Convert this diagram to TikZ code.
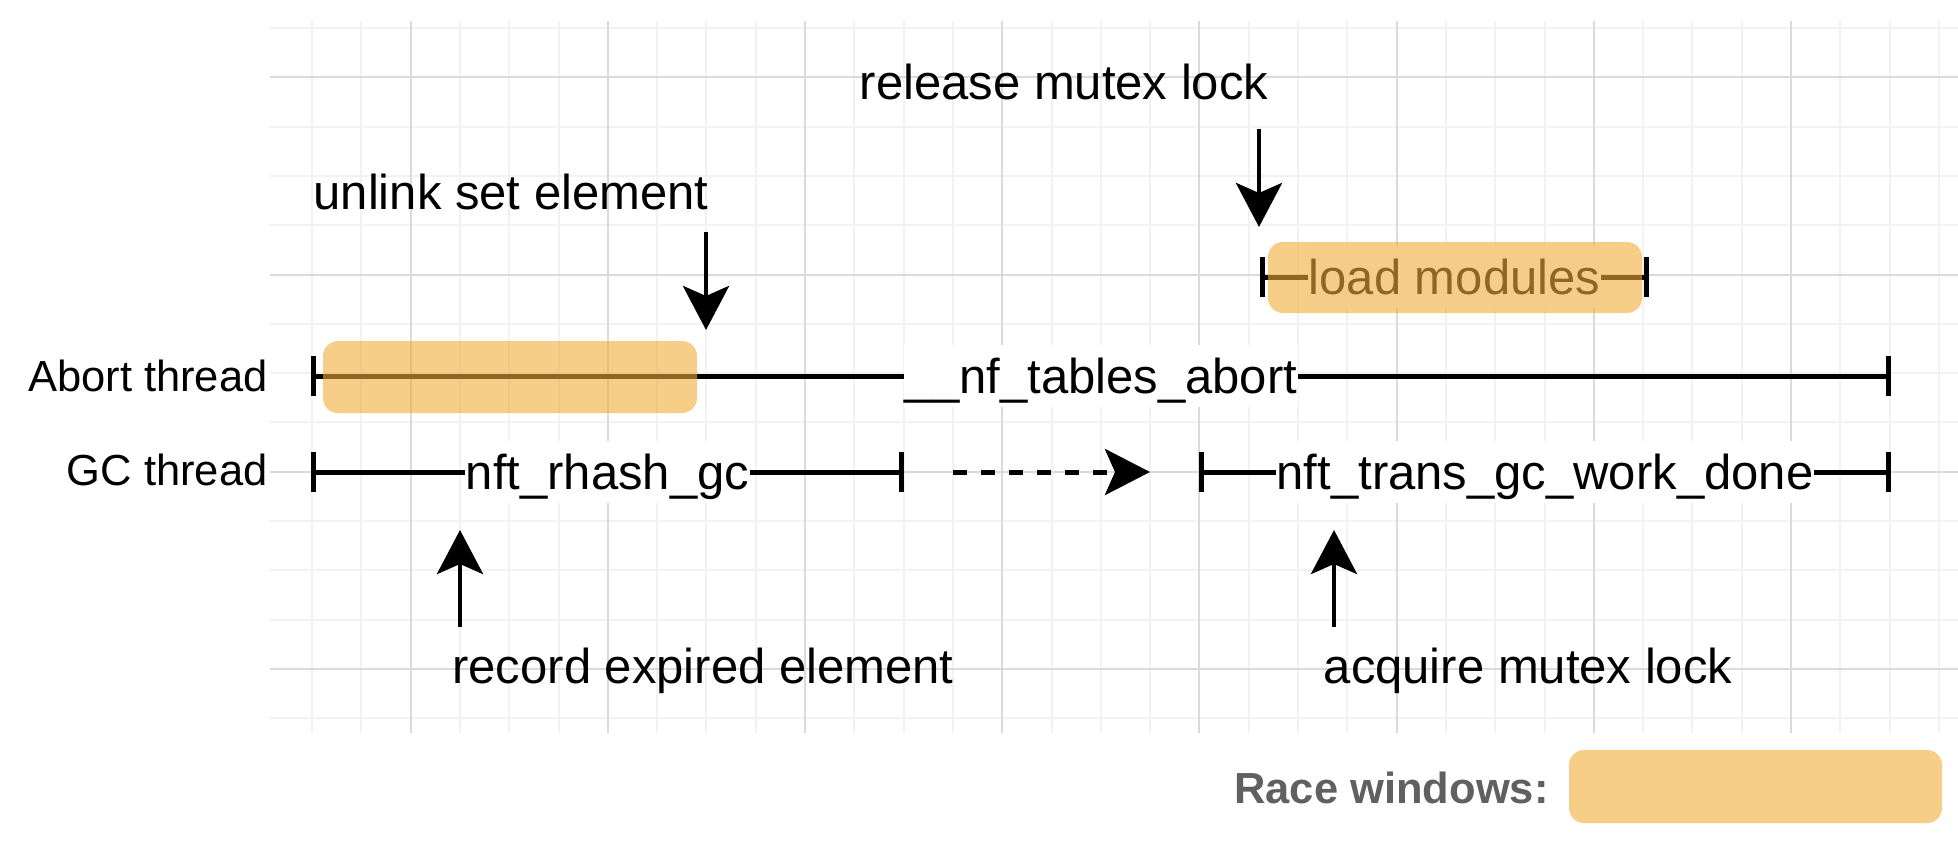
\documentclass[tikz,border=0pt]{standalone}
\usepackage{fontspec}
\setmainfont{Liberation Sans}
\usetikzlibrary{arrows.meta}
\definecolor{orng}{RGB}{240,173,57}
\definecolor{gminor}{RGB}{242,242,242}
\definecolor{gmajor}{RGB}{218,218,218}
\definecolor{legtext}{RGB}{96,96,96}
\newcommand\mainfs{\fontsize{24.5pt}{29pt}\selectfont}
\newcommand\thrfs{\fontsize{21.75pt}{26pt}\selectfont}
\begin{document}
\begin{tikzpicture}[x=0.5pt,y=-0.5pt,
  tl/.style={line width=2.5pt, {Bar[width=20pt]}-{Bar[width=20pt]}},
  lbl/.style={fill=white, font=\mainfs, text height=21pt, text depth=4pt, inner ysep=3pt, inner xsep=0.3pt},
  ptr/.style={line width=2.4pt, -{Stealth[length=22pt,width=23pt,inset=5pt]}},
  dashptr/.style={line width=2.5pt, dash pattern=on 7pt off 7pt, -{Stealth[length=22.5pt,width=23pt,inset=5pt]}},
  txt/.style={font=\mainfs, inner sep=0pt, anchor=base},
  thr/.style={font=\thrfs, inner sep=0pt, anchor=base east},
  race/.style={fill=orng, fill opacity=0.6, draw=none, rounded corners=7.5pt},
  minorline/.style={gminor, line width=1pt},
  majorline/.style={gmajor, line width=1pt}]
\useasboundingbox (0,0) rectangle (1958,840);
% grid
\foreach \k in {0,...,33} \draw[minorline] ({312+49.3*\k},21) -- ({312+49.3*\k},733);
\foreach \k in {0,...,14} \draw[minorline] (270,{28+49.3*\k}) -- (1958,{28+49.3*\k});
\foreach \k in {0,...,7} \draw[majorline] ({410.6+197.2*\k},21) -- ({410.6+197.2*\k},733);
\foreach \k in {0,...,3} \draw[majorline] (270,{77.3+197.2*\k}) -- (1958,{77.3+197.2*\k});
% timeline end points
\coordinate (ab1) at (311,376);
\coordinate (ab2) at (1891,376);
\coordinate (lm1) at (1260,277);
\coordinate (lm2) at (1649,277);
\coordinate (gc1) at (311,472);
\coordinate (gc2) at (904,472);
\coordinate (gc3) at (1199,472);
\coordinate (gc4) at (1891,472);
\coordinate (d1) at (953,472);
\coordinate (d2) at (1150,472);
% timelines
\draw[tl] (ab1) -- node[lbl] (abl) {\_\_nf\_tables\_abort} (ab2);
\draw[tl] (lm1) -- node[lbl] (lml) {load modules} (lm2);
\draw[tl] (gc1) -- node[lbl] (gcl1) {nft\_rhash\_gc} (gc2);
\draw[tl] (gc3) -- node[lbl] (gcl2) {nft\_trans\_gc\_work\_done} (gc4);
\draw[dashptr] (d1) -- (d2);
% thread labels
\node[thr] (abt) at (268,391) {Abort thread};
\node[thr] (gct) at (268,485) {GC thread};
% event labels and arrows
\node[txt] (unl) at (511,209) {unlink set element};
\node[txt] (rel) at (1064,100) {release mutex lock};
\node[txt] (rec) at (703,683) {record expired element};
\node[txt] (acq) at (1528,683) {acquire mutex lock};
\coordinate (a1s) at (706,232);
\coordinate (a1e) at (706,330);
\coordinate (a2s) at (1259,129);
\coordinate (a2e) at (1259,227);
\coordinate (a3s) at (460,627);
\coordinate (a3e) at (460,530);
\coordinate (a4s) at (1334,627);
\coordinate (a4e) at (1334,530);
\draw[ptr] (a1s) -- (a1e);
\draw[ptr] (a2s) -- (a2e);
\draw[ptr] (a3s) -- (a3e);
\draw[ptr] (a4s) -- (a4e);
% race windows
\fill[race] (323,341) rectangle (697,413);
\fill[race] (1268,242) rectangle (1642,313);
% legend
\node[font=\thrfs\bfseries, text=legtext, inner sep=0pt, anchor=base east] (leg) at (1549,803) {Race windows:};
\fill[race] (1569,750) rectangle (1942,823);
\end{tikzpicture}
\end{document}
